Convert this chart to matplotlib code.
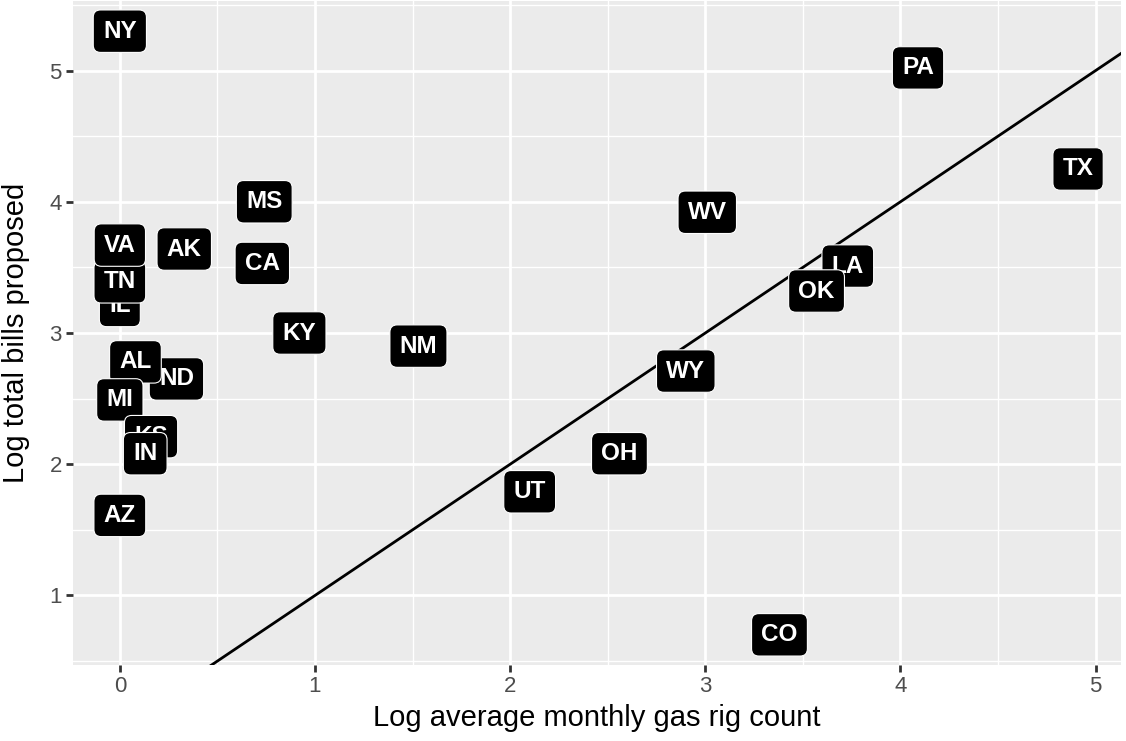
import matplotlib
matplotlib.use("Agg")
import matplotlib.pyplot as plt
import numpy as np

states = ["NY", "PA", "TX", "MS", "WV", "VA", "AK", "CA", "LA", "TN", "OK", "IL",
          "KY", "NM", "AL", "ND", "WY", "MI", "KS", "IN", "OH", "UT", "AZ", "CO"]
log_rigs = [0.00, 4.09, 4.91, 0.74, 3.01, 0.00, 0.33, 0.73, 3.73, 0.00, 3.57, 0.00,
            0.92, 1.53, 0.08, 0.29, 2.90, 0.00, 0.16, 0.13, 2.56, 2.10, 0.00, 3.38]
log_bills = [5.30, 5.02, 4.25, 4.00, 3.92, 3.67, 3.64, 3.53, 3.51, 3.39, 3.32, 3.21,
             3.00, 2.90, 2.78, 2.65, 2.71, 2.49, 2.21, 2.08, 2.08, 1.79, 1.61, 0.70]
# draw order (later on top)
order = ["NY", "PA", "TX", "MS", "WV", "AK", "CA", "LA", "OK", "KY", "NM", "ND",
         "AL", "WY", "MI", "KS", "IN", "OH", "UT", "AZ", "CO", "IL", "TN", "VA"]

FAM = ["Liberation Sans", "DejaVu Sans"]
W, H = 1126, 741
fig = plt.figure(figsize=(W / 100, H / 100), dpi=100)
left, right, top, bottom = 73, 1121, 1, 665
ax = fig.add_axes([left / W, 1 - bottom / H, (right - left) / W, (bottom - top) / H])
ax.set_facecolor("#EBEBEB")
for s in ax.spines.values():
    s.set_visible(False)

ax.set_xlim(-0.24, 5.13)
ax.set_ylim(0.47, 5.53)
ax.set_xticks([0, 1, 2, 3, 4, 5])
ax.set_yticks([1, 2, 3, 4, 5])
ax.set_xticks(np.arange(0.5, 5.5, 1), minor=True)
ax.set_yticks(np.arange(0.5, 6.0, 1), minor=True)
ax.grid(which="major", color="white", lw=2.0)
ax.grid(which="minor", color="white", lw=1.0)
ax.set_axisbelow(True)
ax.tick_params(which="major", length=5, width=2, color="#333333",
               labelcolor="#4D4D4D", labelsize=16, pad=3)
ax.tick_params(which="minor", length=0)

xs = np.array([ax.get_xlim()[0], 5.3])
ax.plot(xs, xs, color="black", lw=2.0, zorder=2)

idx = {s: i for i, s in enumerate(states)}
for z, s in enumerate(order):
    i = idx[s]
    ax.text(log_rigs[i], log_bills[i], s, ha="center", va="center",
            fontsize=17.5, fontweight="bold", color="white",
            family=FAM, zorder=3 + z,
            bbox=dict(boxstyle="round,pad=0.4,rounding_size=0.3",
                      fc="black", ec="white", lw=0.8))

ax.set_xlabel("Log average monthly gas rig count", fontsize=21, color="black", labelpad=5)
ax.set_ylabel("Log total bills proposed", fontsize=21, color="black", labelpad=14)
for t in ax.get_xticklabels() + ax.get_yticklabels():
    t.set_family(FAM)
ax.xaxis.label.set_family(FAM)
ax.yaxis.label.set_family(FAM)

fig.savefig("out.png", dpi=100)
